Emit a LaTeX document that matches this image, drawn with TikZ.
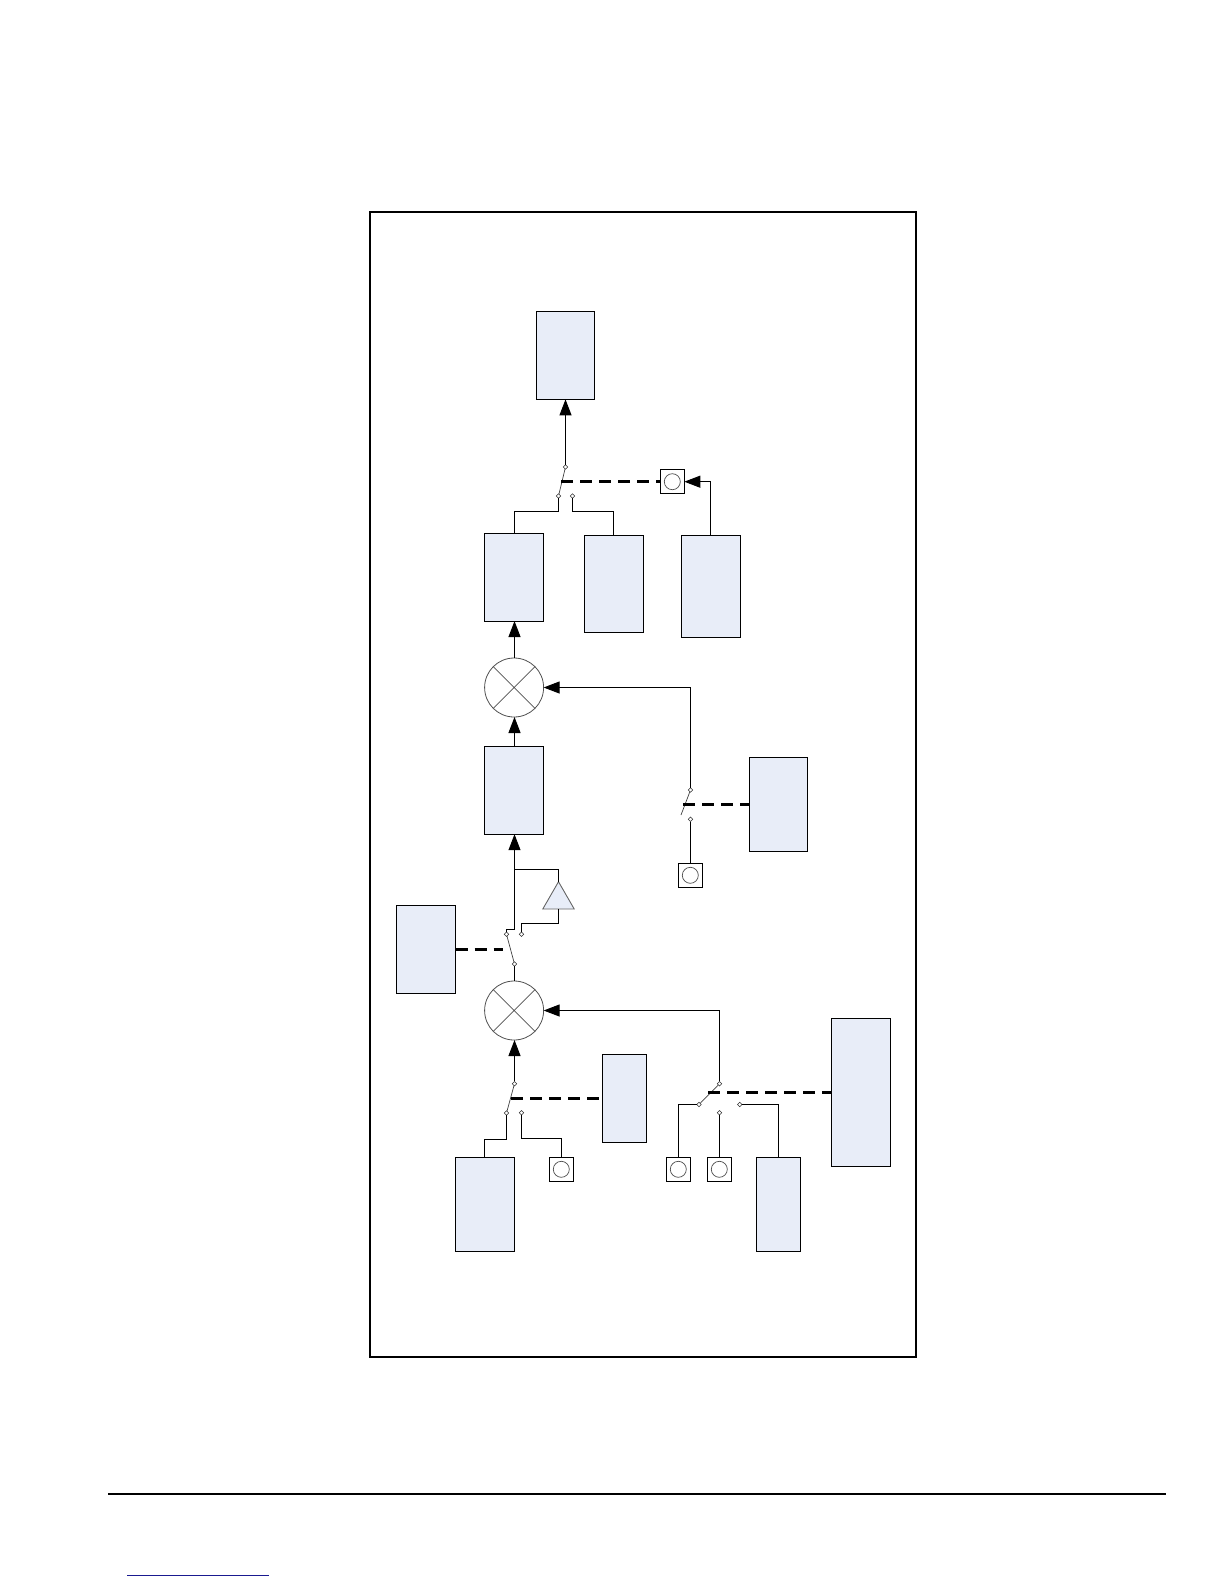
\documentclass[tikz,border=0pt]{standalone}
\usetikzlibrary{arrows.meta,shapes.geometric}
\definecolor{blockfill}{HTML}{E8EDF8}
\definecolor{ringgrey}{HTML}{505050}
\definecolor{linknavy}{HTML}{1A1A90}
\tikzset{
  blockbox/.style={draw=black,fill=blockfill,line width=1.1pt,inner sep=0pt,outer sep=0pt},
  srcbox/.style={draw=black,fill=white,line width=1.1pt,inner sep=0pt,outer sep=0pt,minimum size=24pt},
  srcring/.style={circle,draw=ringgrey,fill=white,line width=0.7pt,inner sep=0pt,outer sep=0pt,minimum size=16pt},
  mixer/.style={circle,draw=ringgrey,fill=white,line width=0.8pt,inner sep=0pt,outer sep=0pt,minimum size=59pt},
  contact/.style={diamond,draw=black!80,fill=white,line width=0.5pt,inner sep=0pt,outer sep=0pt,minimum size=4.5pt},
  wire/.style={draw=black,line width=1pt},
  feed/.style={wire,-{Triangle[length=16pt,width=12pt]}},
  lever/.style={draw=black!75,line width=0.7pt},
  ctrl/.style={draw=black,line width=3.2pt,dash pattern=on 12pt off 7pt},
  amp/.style={isosceles triangle,isosceles triangle stretches,shape border rotate=90,draw=black!60,fill=blockfill,line width=0.9pt,inner sep=0pt,outer sep=0pt,minimum width=31.4pt,minimum height=27.3pt,anchor=apex}
}
\begin{document}
\begin{tikzpicture}[x=1pt,y=-1pt]
\useasboundingbox (0,0) rectangle (1224,1584);
% frame and page furniture
\node[draw=black,line width=1.6pt,inner sep=0pt,outer sep=0pt,minimum width=546pt,minimum height=1144.6pt] (frame) at (643,784.5) {};
\coordinate (ruleL) at (108,1493.7);
\coordinate (ruleR) at (1165.5,1493.7);
\draw[line width=2pt,draw=black] (ruleL) -- (ruleR);
\coordinate (linkL) at (127,1575.5);
\coordinate (linkR) at (269,1575.5);
\draw[line width=1.2pt,draw=linknavy] (linkL) -- (linkR);
% blocks
\node[blockbox,minimum width=58pt,minimum height=88.3pt] (top) at (565.3,355.2) {};
\node[blockbox,minimum width=59pt,minimum height=87.7pt] (bA) at (513.8,577.2) {};
\node[blockbox,minimum width=59pt,minimum height=97.3pt] (bB) at (613.8,583.7) {};
\node[blockbox,minimum width=59pt,minimum height=102.5pt] (bC) at (710.8,586.3) {};
\node[blockbox,minimum width=59.2pt,minimum height=87.8pt] (bN) at (513.9,790.3) {};
\node[blockbox,minimum width=58pt,minimum height=93.5pt] (selLO) at (778.3,804.5) {};
\node[blockbox,minimum width=59.4pt,minimum height=88.4pt] (selAmp) at (426,949.5) {};
\node[blockbox,minimum width=44pt,minimum height=88pt] (selIn) at (624.3,1098.5) {};
\node[blockbox,minimum width=59pt,minimum height=147.3pt] (selBig) at (861.2,1092.5) {};
\node[blockbox,minimum width=59pt,minimum height=94pt] (inL) at (484.8,1204.3) {};
\node[blockbox,minimum width=44pt,minimum height=94pt] (inR) at (778.3,1204.3) {};
% mixers
\node[mixer] (mixU) at (514.1,687.5) {};
\draw[draw=ringgrey,line width=0.8pt] (mixU.45) -- (mixU.225) (mixU.135) -- (mixU.315);
\node[mixer] (mixD) at (514.1,1010.5) {};
\draw[draw=ringgrey,line width=0.8pt] (mixD.45) -- (mixD.225) (mixD.135) -- (mixD.315);
% amplifier
\node[amp] (tri) at (558.5,881.7) {};
% sources
\node[srcbox] (s1) at (672.3,481.7) {};
\node[srcring] (s1r) at (s1) {};
\node[srcbox] (s2) at (690.3,875.3) {};
\node[srcring] (s2r) at (s2) {};
\node[srcbox] (s3) at (561.3,1169.3) {};
\node[srcring] (s3r) at (s3) {};
\node[srcbox] (s4) at (678.3,1169.3) {};
\node[srcring] (s4r) at (s4) {};
\node[srcbox] (s5) at (719.3,1169.3) {};
\node[srcring] (s5r) at (s5) {};
% contacts
\node[contact] (aT) at (565.5,467) {};
\node[contact] (aL) at (558.5,496) {};
\node[contact] (aR) at (572.5,496) {};
\node[contact] (bT) at (690.5,790) {};
\node[contact] (bD) at (690.5,819.3) {};
\coordinate (bFree) at (681,815);
\coordinate (spine) at (514.5,800);
\node[contact] (cL) at (506.5,934.3) {};
\node[contact] (cR) at (521.5,934.3) {};
\node[contact] (cB) at (514.5,964) {};
\node[contact] (dT) at (514.5,1083.7) {};
\node[contact] (dL) at (506.5,1113) {};
\node[contact] (dR) at (521.5,1112.7) {};
\node[contact] (eT) at (719.5,1083.7) {};
\node[contact] (eL) at (699,1104.5) {};
\node[contact] (eM) at (719.5,1112.7) {};
\node[contact] (eR) at (739.7,1104.5) {};
% levers
\draw[lever] (aT) -- (aL);
\draw[lever] (bT) -- (bFree);
\draw[lever] (cB) -- (cL);
\draw[lever] (dT) -- (dL);
\draw[lever] (eT) -- (eL);
% control lines
\coordinate (aCtl) at (561,481.7);
\coordinate (bCtl) at (683.3,804.5);
\coordinate (cCtl) at (503.3,949.5);
\coordinate (dCtl) at (511,1098.5);
\coordinate (eCtl) at (708.3,1092.5);
\draw[ctrl] (aCtl) -- (s1.west);
\draw[ctrl] (bCtl) -- (selLO.west);
\draw[ctrl] (selAmp.east) -- (cCtl);
\draw[ctrl] (dCtl) -- (selIn.west);
\draw[ctrl] (eCtl) -- (selBig.west);
% output stage
\draw[feed] (aT.north) -- (aT.north |- top.south);
\draw[wire] (aL.south) -- ++(0,13.25) -| (spine |- bA.north);
\draw[wire] (aR.south) -- ++(0,13.25) -| ([xshift=-.3pt]bB.north);
\draw[feed] ([xshift=-.3pt]bC.north) |- (s1.east);
\draw[feed] (spine |- mixU.north) -- (spine |- bA.south);
\draw[feed] (spine |- bN.north) -- (spine |- mixU.south);
% LO branch
\draw[feed] (bT.north) |- (mixU.east);
\draw[wire] (bD.south) -- (bD.south |- s2.north);
% amp stage
\draw[feed] (cL.north) -- ++(0,-2.55) -| (spine |- bN.south);
\coordinate (tap) at (514.5,869.5);
\draw[wire] (tap) -| (tri.apex);
\draw[wire] (tri.lower side) -- ++(0,14.5) -| (cR.north);
\draw[wire] (cB.south) -- (cB.south |- mixD.north);
% input stage
\draw[feed] (dT.north) -- (dT.north |- mixD.south);
\draw[wire] (dL.south) -- ++(0,24.25) -| ([xshift=-.3pt]inL.north);
\draw[wire] (dR.south) -- ++(0,23.55) -| ([xshift=.2pt]s3.north);
\draw[feed] (eT.north) |- (mixD.east);
\draw[wire] (eL.west) -| ([xshift=.2pt]s4.north);
\draw[wire] (eM.south) -- (eM.south |- s5.north);
\draw[wire] (eR.east) -| ([xshift=.2pt]inR.north);
\end{tikzpicture}
\end{document}
